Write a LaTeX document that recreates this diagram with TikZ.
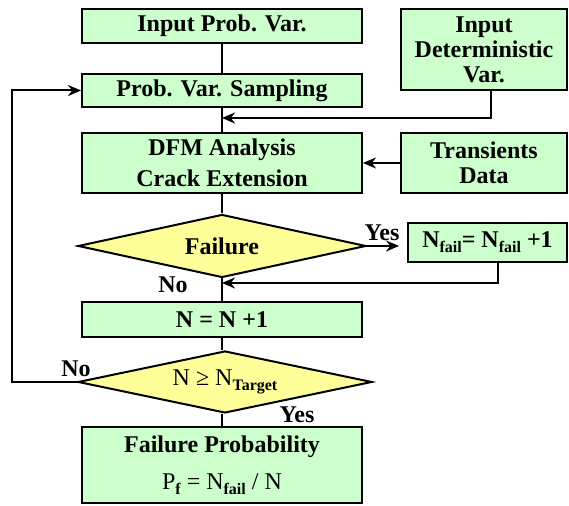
\documentclass[tikz,border=0pt]{standalone}
\usepackage{fontspec}
\setmainfont{Liberation Serif}
\usetikzlibrary{shapes.geometric,arrows.meta}
\definecolor{boxF}{HTML}{CCFFCC}
\definecolor{decF}{HTML}{FFFF99}
\newcommand{\lowtxt}[1]{\raisebox{-0.45ex}{\fontsize{8}{8}\selectfont\bfseries #1}}

\begin{document}
\begin{tikzpicture}[x=0.5pt, y=0.5pt, font=\fontsize{12}{14}\selectfont\bfseries,
  box/.style={draw=black, line width=1pt, fill=boxF, align=center, inner sep=1pt},
  decision/.style={diamond, draw=black, line width=1pt, fill=decF, aspect=4.6, inner sep=0pt},
  line/.style={line width=1pt, draw=black},
  arr/.style={line, -{Stealth[length=6.5pt,width=5.5pt]}},
  lbl/.style={inner sep=0pt},
  ]
\useasboundingbox (0,0) rectangle (569,506);

% === main column
\node[box, minimum width=140pt, minimum height=17pt] (inprob) at (222,480) {Input Prob. Var.};
\node[box, minimum width=140pt, minimum height=16.5pt] (sampling) at (222,415.5) {Prob. Var. Sampling};
\node[box, minimum width=140pt, minimum height=30pt, font=\fontsize{12}{15.5}\selectfont\bfseries]
  (dfm) at (222,343) {DFM Analysis\\Crack Extension};
\node[decision, minimum width=144pt, minimum height=31.5pt] (fail) at (222,260) {Failure};
\node[box, minimum width=140pt, minimum height=17.5pt] (nplus) at (222,186.5) {N = N +1};
\node[decision, minimum width=147pt, minimum height=31pt] (target) at (225,124)
  {{\mdseries N ≥ N}\lowtxt{Target}};
\node[box, minimum width=140pt, minimum height=38pt, font=\fontsize{12}{18.5}\selectfont\bfseries]
  (result) at (222,41)
  {Failure Probability\\{\mdseries P}\lowtxt{f} {\mdseries = N}\lowtxt{fail} {\mdseries / N}};

% === side inputs
\node[box, minimum width=83pt, minimum height=40.5pt, font=\fontsize{12}{12.5}\selectfont\bfseries]
  (det) at (484,456.5) {Input\\Deterministic\\Var.};
\node[box, minimum width=83pt, minimum height=30pt, font=\fontsize{12}{12.5}\selectfont\bfseries]
  (trans) at (484,343) {Transients\\Data};
\node[box, minimum width=79.5pt, minimum height=19.5pt] (nfail) at (487.5,263.5)
  {N\lowtxt{fail}= N\lowtxt{fail} +1};

% === joins on the main line
\coordinate (j1) at (222,388);
\coordinate (j2) at (222,223);

% === connectors
\draw[line] (inprob) -- (sampling);
\draw[line] (sampling) -- (dfm);
\draw[arr] ([xshift=3.5pt]det.south) |- (j1);
\draw[arr] (trans) -- (dfm);
\draw[line] (dfm) -- (fail);
\draw[arr, shorten >=4pt] (fail.east) -- (fail.east -| nfail.west);
\draw[arr] ([xshift=5pt]nfail.south) |- (j2);
\draw[line] (fail) -- (nplus);
\draw[line] (nplus.south) -- (nplus.south |- target.north);
\draw[line] (result.north |- target.south) -- (result.north);
\draw[arr] (target.west) -- ++(-65,0) |- (sampling.west);

% === branch labels
\node[lbl] (noA) at (173,221) {No};
\node[lbl] (yesA) at (382,273) {Yes};
\node[lbl] (noB) at (76,137) {No};
\node[lbl] (yesB) at (297,91) {Yes};

\end{tikzpicture}
\end{document}
